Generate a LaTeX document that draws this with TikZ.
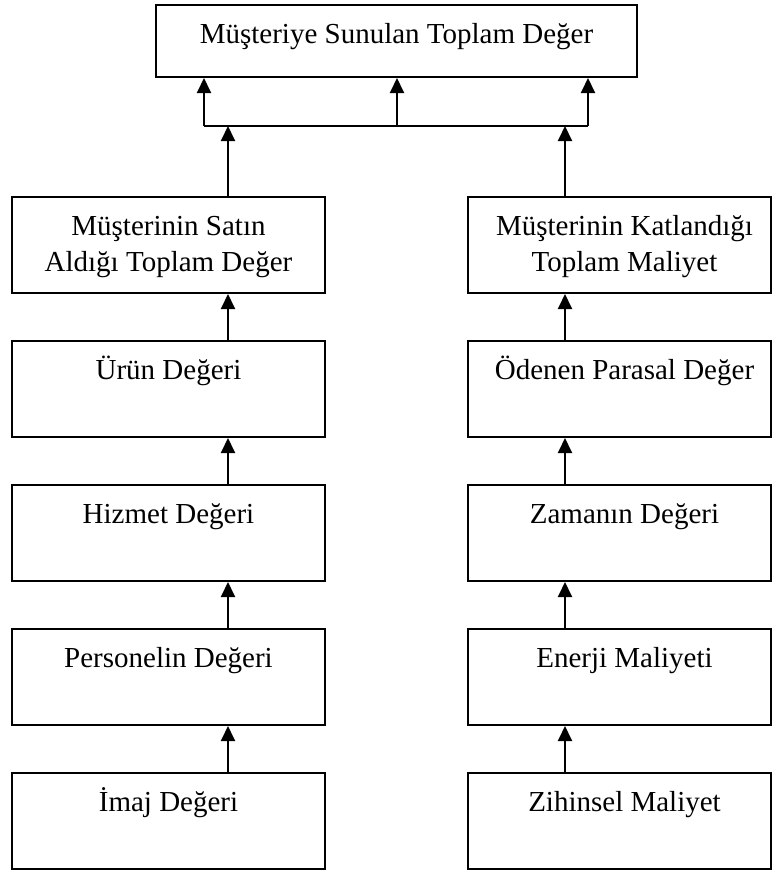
\documentclass[tikz,border=0pt]{standalone}
\usepackage{fontspec}
\setmainfont{Liberation Serif}
\usetikzlibrary{arrows.meta}
\begin{document}
\begin{tikzpicture}[x=1pt,y=-1pt,
  box/.style={draw, line width=2pt, inner sep=0pt, minimum height=96pt},
  leftbox/.style={box, minimum width=313pt},
  rightbox/.style={box, minimum width=303pt},
  lbl/.style={anchor=base, inner sep=0pt, font=\fontsize{29pt}{36pt}\selectfont},
  arr/.style={line width=2pt, -{Triangle[length=15pt,width=14pt]}},
  ln/.style={line width=2pt}]
\useasboundingbox (0,0) rectangle (772,873);

% top box
\node[box, minimum width=481pt, minimum height=72pt] (top) at (396.5,41) {};
\node[lbl] (topt) at (396.5,43) {Müşteriye Sunulan Toplam Değer};

% left column
\node[leftbox] (l1) at (168.5,245) {};
\node[lbl] (l1a) at (168.5,235) {Müşterinin Satın};
\node[lbl] (l1b) at (168.5,271) {Aldığı Toplam Değer};
\node[leftbox] (l2) at (168.5,389) {};
\node[lbl] (l2t) at (168.5,379) {Ürün Değeri};
\node[leftbox] (l3) at (168.5,533) {};
\node[lbl] (l3t) at (168.5,523) {Hizmet Değeri};
\node[leftbox] (l4) at (168.5,677) {};
\node[lbl] (l4t) at (168.5,667) {Personelin Değeri};
\node[leftbox] (l5) at (168.5,821) {};
\node[lbl] (l5t) at (168.5,811) {İmaj Değeri};

% right column
\node[rightbox] (r1) at (619.5,245) {};
\node[lbl] (r1a) at (624.5,235) {Müşterinin Katlandığı};
\node[lbl] (r1b) at (624.5,271) {Toplam Maliyet};
\node[rightbox] (r2) at (619.5,389) {};
\node[lbl] (r2t) at (624.5,379) {Ödenen Parasal Değer};
\node[rightbox] (r3) at (619.5,533) {};
\node[lbl] (r3t) at (624.5,523) {Zamanın Değeri};
\node[rightbox] (r4) at (619.5,677) {};
\node[lbl] (r4t) at (624.5,667) {Enerji Maliyeti};
\node[rightbox] (r5) at (619.5,821) {};
\node[lbl] (r5t) at (624.5,811) {Zihinsel Maliyet};

% connector columns and bus
\coordinate (lx) at (228,0);
\coordinate (rx) at (565,0);
\coordinate (busL) at (204,126);
\coordinate (busM) at (397,126);
\coordinate (busR) at (588,126);

\draw[ln] (busL) -- (busR);
\draw[arr] (busL) -- (top.south -| busL);
\draw[arr] (busM) -- (top.south -| busM);
\draw[arr] (busR) -- (top.south -| busR);
\draw[arr] (l1.north -| lx) -- (busL -| lx);
\draw[arr] (r1.north -| rx) -- (busR -| rx);

\foreach \a/\b in {l2/l1,l3/l2,l4/l3,l5/l4}
  \draw[arr] (\a.north -| lx) -- (\b.south -| lx);
\foreach \a/\b in {r2/r1,r3/r2,r4/r3,r5/r4}
  \draw[arr] (\a.north -| rx) -- (\b.south -| rx);
\end{tikzpicture}
\end{document}
